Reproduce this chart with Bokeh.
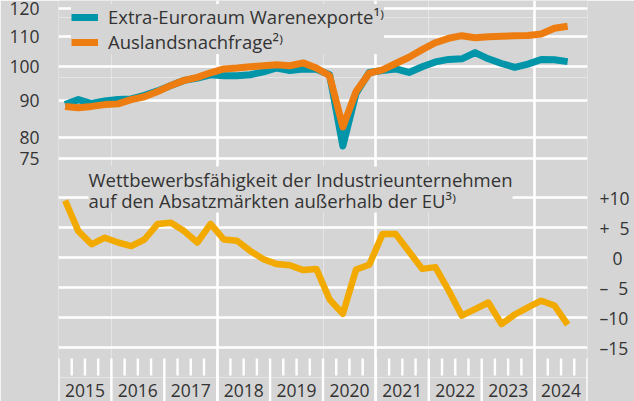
from bokeh.plotting import figure
from bokeh.models import (Range1d, LogScale, LinearAxis, FixedTicker, Grid, Legend,
                          LegendItem, Label, ColumnDataSource)
from bokeh.core.properties import value
from bokeh.embed import file_html
from bokeh.resources import INLINE
import math

# ---------------- data ----------------
years = list(range(2015, 2025))
quarters = [f"{y}Q{q}" for y in years for q in range(1, 5)][:39]   # 2015Q1 .. 2024Q3

# Extra-Euroraum Warenexporte (1. Vj. 2015 = 100, log. Maßstab)
exports = [88.8, 90.2, 89.1, 89.8, 90.2, 90.4, 91.4, 92.7, 94.3, 95.8, 96.5, 97.5,
           97.2, 97.2, 97.5, 98.4, 99.6, 98.8, 99.3, 99.2, 97.5, 78.0, 92.0, 98.2,
           98.8, 99.3, 98.2, 100.0, 101.5, 102.3, 102.5, 104.5, 102.5, 101.0, 99.8, 100.8,
           102.3, 102.2, 101.6]
# Auslandsnachfrage
demand = [88.3, 87.9, 88.3, 88.8, 89.0, 90.2, 91.0, 92.5, 94.3, 95.8, 96.7, 98.1,
          99.3, 99.6, 100.0, 100.3, 100.6, 100.3, 101.2, 99.6, 97.2, 82.8, 92.5, 98.0,
          99.0, 101.0, 103.0, 105.5, 107.8, 109.3, 110.2, 109.5, 109.8, 110.0, 110.2, 110.3,
          110.8, 112.8, 113.5]
# Wettbewerbsfähigkeit der Industrieunternehmen auf den Absatzmärkten außerhalb der EU
competitiveness = [9.5, 4.4, 2.2, 3.3, 2.5, 1.9, 3.0, 5.6, 5.8, 4.4, 2.5, 5.6,
                   3.0, 2.8, 1.1, -0.3, -1.1, -1.3, -2.1, -1.9, -7.0, -9.4, -2.0, -1.2,
                   3.9, 3.9, 1.0, -1.9, -1.6, -5.5, -9.7, -8.6, -7.5, -11.1, -9.5, -8.3,
                   -7.2, -8.0, -11.2]

index_ticks = [75, 80, 90, 100, 110, 120]
comp_ticks = [-15, -10, -5, 0, 5, 10]
comp_labels = {10: "+10", 5: "+\u20075", 0: "\u2007\u20090", -5: "\u2013\u20075",
               -10: "\u201310", -15: "\u201315"}
year_grid = [2018, 2021, 2024]

label_exports = "Extra-Euroraum Warenexporte\u00b9\u207e"
label_demand = "Auslandsnachfrage\u00b2\u207e"
title_lower = ("Wettbewerbsfähigkeit der Industrieunternehmen\n"
               "auf den Absatzmärkten außerhalb der EU\u00b3\u207e")

# ---------------- style ----------------
BG = "#d5d5d5"
TXT = "#333333"
TEAL = "#0095a8"
ORANGE = "#ee7d11"
AMBER = "#f2aa00"
FONT = "Open Sans"
FS_TXT = "18.5px"
FS_AX = "17.5px"

FRAME_W, FRAME_H = 529, 401
BL, BR = 58, 47

# pixel anchors (from frame top) for the two value scales
y120, y75 = 8.0, 158.0
yp10, ym15 = 197.0, 347.0

K = (y75 - y120) / math.log10(120 / 75)
top_hi = 120 * 10 ** (y120 / K)
top_lo = 75 / 10 ** ((FRAME_H - y75) / K)

ppu = (ym15 - yp10) / 25.0
low_hi = 10 + yp10 / ppu
low_lo = -15 - (FRAME_H - ym15) / ppu

def to_low(py):
    return low_hi - py / ppu

x = [int(q[:4]) + (int(q[5]) - 1) / 4 + 0.125 for q in quarters]

p = figure(frame_width=FRAME_W, frame_height=FRAME_H,
           x_range=Range1d(2015, 2025), y_range=Range1d(low_lo, low_hi),
           x_axis_location=None, y_axis_location=None,
           output_backend="svg", toolbar_location=None,
           min_border_left=BL, min_border_right=BR, min_border_top=0, min_border_bottom=0,
           background_fill_color=BG, border_fill_color=BG, outline_line_color=None)
p.extra_y_ranges = {"top": Range1d(top_lo, top_hi)}
p.extra_y_scales = {"top": LogScale()}

GW = 2.6
p.add_layout(Grid(dimension=1, ticker=FixedTicker(ticks=comp_ticks),
                  grid_line_color="white", grid_line_width=GW))
p.add_layout(Grid(dimension=1, y_range_name="top", ticker=FixedTicker(ticks=index_ticks),
                  grid_line_color="white", grid_line_width=GW))
p.add_layout(Grid(dimension=0, ticker=FixedTicker(ticks=year_grid),
                  grid_line_color="white", grid_line_width=GW))

left = LinearAxis(y_range_name="top", ticker=FixedTicker(ticks=index_ticks),
                  axis_line_color=None, major_tick_line_color=None, minor_tick_line_color=None,
                  major_label_standoff=13, major_label_text_font=FONT,
                  major_label_text_font_size=FS_AX, major_label_text_color=TXT)
p.add_layout(left, "left")
right = LinearAxis(ticker=FixedTicker(ticks=comp_ticks), major_label_overrides=comp_labels,
                   axis_line_color=None, major_tick_line_color=None, minor_tick_line_color=None,
                   major_label_standoff=6, major_label_text_font=FONT,
                   major_label_text_font_size=FS_AX, major_label_text_color=TXT)
p.add_layout(right, "right")

# quarter ticks and year ticks below the lower panel
bounds = [y + q / 4 for y in years for q in range(4)] + [years[-1] + 1]
short_b = [b for b in bounds if b % 1 != 0]
long_b = [b for b in bounds if b % 1 == 0]
t_top, t_short, t_long = to_low(358.0), to_low(375.0), low_lo - 2
p.segment(x0=short_b, x1=short_b, y0=[t_top] * len(short_b), y1=[t_short] * len(short_b),
          line_color="white", line_width=2.4)
p.segment(x0=long_b, x1=long_b, y0=[t_top] * len(long_b), y1=[t_long] * len(long_b),
          line_color="white", line_width=2.4)

ysrc = ColumnDataSource(dict(x=[y + 0.5 for y in years], y=[to_low(389.5)] * len(years),
                             t=[str(y) for y in years]))
p.text(x="x", y="y", text="t", source=ysrc, text_align="center", text_baseline="middle",
       text_font=value(FONT), text_font_size=FS_AX, text_color=TXT)

# data lines
r_exp = p.line(x, exports, y_range_name="top", line_color=TEAL, line_width=7, line_join="round")
r_dem = p.line(x, demand, y_range_name="top", line_color=ORANGE, line_width=7, line_join="round")
p.line(x, competitiveness, line_color=AMBER, line_width=6.5, line_join="round")

legend = Legend(items=[LegendItem(label=label_exports, renderers=[r_exp]),
                       LegendItem(label=label_demand, renderers=[r_dem])],
                location=(13, 347), margin=0, padding=4, spacing=-2,
                glyph_width=27, glyph_height=20, label_height=20, label_standoff=10,
                label_text_font=FONT, label_text_font_size=FS_TXT, label_text_color=TXT,
                background_fill_color=BG, background_fill_alpha=1.0, border_line_color=None)
p.add_layout(legend)

title = Label(x=2015 + 30 / 52.9, y=to_low(166.0), text=title_lower,
              text_font=FONT, text_font_size=FS_TXT, text_color=TXT, text_line_height=0.84,
              text_align="left", text_baseline="top",
              background_fill_color=BG, background_fill_alpha=1.0)
p.add_layout(title)

open("out.html", "w").write(file_html(p, INLINE))
